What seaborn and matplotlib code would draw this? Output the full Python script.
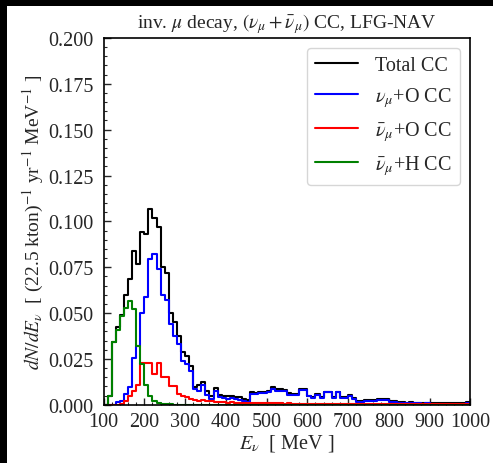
import numpy as np
import pandas as pd
import matplotlib
matplotlib.use("Agg")
import matplotlib.pyplot as plt
from matplotlib.patches import Rectangle
from matplotlib.lines import Line2D
from matplotlib.ticker import MultipleLocator, FormatStrFormatter
import seaborn as sns

# ---- data: 10 MeV bins from 100 to 1000 MeV ----
bin_edges = list(range(100, 1001, 10))

total_cc = [0, 0.005, 0.034, 0.0425, 0.049, 0.060, 0.0685, 0.084, 0.0767, 0.094,
            0.093, 0.1067, 0.102, 0.0967, 0.075, 0.072, 0.050, 0.045, 0.0376, 0.0285,
            0.0267, 0.021, 0.0098, 0.011, 0.0125, 0.0075, 0.005, 0.009, 0.0055, 0.005,
            0.0045, 0.005, 0.004, 0.004, 0.003, 0.0025, 0.0068, 0.0066, 0.0072, 0.0071,
            0.0075, 0.0097, 0.0085, 0.0084, 0.0083, 0.0062, 0.006, 0.006, 0.0085, 0.0085,
            0.005, 0.004, 0.006, 0.004, 0.0072, 0.0072, 0.004, 0.0072, 0.004, 0.004,
            0.0053, 0.0035, 0.0022, 0.0022, 0.0025, 0.0025, 0.0025, 0.003, 0.003, 0.003,
            0.002, 0.002, 0.0014, 0.0013, 0.0012, 0.0013, 0.0011, 0.0012, 0.001, 0.0011,
            0.001, 0.001, 0.0009, 0.001, 0.0009, 0.0008, 0.0009, 0.0008, 0.0008, 0.0015]

numu_O = [0, 0, 0, 0.0013, 0.002, 0.006, 0.0095, 0.0255, 0.032, 0.050,
          0.0585, 0.0795, 0.082, 0.074, 0.060, 0.057, 0.044, 0.0376, 0.033, 0.024,
          0.022, 0.0185, 0.0085, 0.0075, 0.0105, 0.0055, 0.003, 0.0075, 0.004, 0.0035,
          0.003, 0.0035, 0.003, 0.0027, 0.002, 0.0015, 0.0058, 0.0058, 0.0063, 0.0063,
          0.0067, 0.0085, 0.0077, 0.0077, 0.0077, 0.0055, 0.0055, 0.0055, 0.008, 0.008,
          0.0045, 0.0035, 0.0055, 0.0035, 0.0067, 0.0067, 0.0035, 0.0067, 0.0035, 0.0035,
          0.0048, 0.003, 0.0017, 0.0017, 0.002, 0.002, 0.002, 0.0025, 0.0025, 0.0025,
          0.0016, 0.0016, 0.001, 0.0009, 0.0008, 0.0009, 0.0007, 0.0008, 0.0006, 0.0007,
          0.0006, 0.0006, 0.0005, 0.0006, 0.0005, 0.0004, 0.0005, 0.0004, 0.0004, 0.0012]

numubar_O = [0, 0, 0, 0, 0.0005, 0.002, 0.005, 0.0075, 0.011, 0.0225,
             0.0225, 0.0225, 0.017, 0.0225, 0.015, 0.015, 0.0104, 0.0104, 0.006, 0.005,
             0.004, 0.003, 0.0025, 0.002, 0.0025, 0.002, 0.002, 0.0015, 0.0015, 0.0013,
             0.0012, 0.0015, 0.001, 0.0012, 0.001, 0.0009, 0.001, 0.0008, 0.0009, 0.0008,
             0.0007, 0.0012, 0.0008, 0.0007, 0.0006, 0.0007, 0.0005, 0.0005, 0.0005, 0.0006,
             0.0005, 0.0005, 0.0005, 0.0005, 0.0005, 0.0005, 0.0005, 0.0005, 0.0005, 0.0005,
             0.0005, 0.0005, 0.0005, 0.0005, 0.0005, 0.0005, 0.0005, 0.0005, 0.0005, 0.0004,
             0.0004, 0.0004, 0.0004, 0.0004, 0.0004, 0.0004, 0.0004, 0.0004, 0.0003, 0.0003,
             0.0003, 0.0003, 0.0003, 0.0003, 0.0003, 0.0003, 0.0003, 0.0003, 0.0003, 0.0003]

numubar_H = [0, 0.005, 0.034, 0.041, 0.0485, 0.053, 0.0565, 0.052, 0.032, 0.022,
             0.011, 0.005, 0.002, 0.0007, 0.0003, 0.0002, 0.0002] + [0] * 73

series_names = ["Total CC", r"$\nu_\mu$+O CC", r"$\bar{\nu}_\mu$+O CC", r"$\bar{\nu}_\mu$+H CC"]
series_values = [total_cc, numu_O, numubar_O, numubar_H]
series_colors = ["black", "#0000ff", "#ff0000", "#008000"]

centers = [(a + b) / 2 for a, b in zip(bin_edges[:-1], bin_edges[1:])]

# ---- style ----
sns.set_style("ticks")
plt.rcParams["font.family"] = ["Liberation Serif", "DejaVu Serif"]
plt.rcParams["mathtext.fontset"] = "stix"

fig = plt.figure(figsize=(4.93, 4.64), dpi=100)
fig.patch.set_facecolor("black")
fig.add_artist(Rectangle((7 / 493, 0), 1.1, (464 - 7) / 464, transform=fig.transFigure,
                         facecolor="white", edgecolor="none", zorder=-10))
ax = fig.add_axes([0.21, 0.1256, 0.744, 0.7904])

for name, vals, col in zip(series_names, series_values, series_colors):
    df = pd.DataFrame({"E": centers, "w": vals})
    sns.histplot(data=df, x="E", weights="w", bins=bin_edges, element="step",
                 fill=False, color=col, linewidth=1.5, ax=ax)

ax.set_xlim(100, 1000)
ax.set_ylim(0, 0.2)
ax.xaxis.set_major_locator(MultipleLocator(100))
ax.xaxis.set_minor_locator(MultipleLocator(20))
ax.yaxis.set_major_locator(MultipleLocator(0.025))
ax.yaxis.set_minor_locator(MultipleLocator(0.005))
ax.yaxis.set_major_formatter(FormatStrFormatter("%.3f"))
ax.tick_params(which="both", direction="in", labelsize=14.5, top=False, right=False)
ax.tick_params(axis="y", which="major", pad=7)
ax.tick_params(axis="x", which="major", pad=5)
ax.tick_params(which="major", length=5, width=1)
ax.tick_params(which="minor", length=2.5, width=0.8)
for s in ax.spines.values():
    s.set_linewidth(1.2)
    s.set_color("black")

ax.set_xlabel(r"$E_\nu$  [ MeV ]", fontsize=14.5, labelpad=1)
ax.set_ylabel(r"$dN/dE_\nu$  [ (22.5 kton)$^{-1}$ yr$^{-1}$ MeV$^{-1}$ ]", fontsize=14, labelpad=2)
ax.set_title(r"inv. $\mu$ decay, $(\nu_\mu+\bar{\nu}_\mu)$ CC, LFG-NAV", fontsize=14, pad=8)

handles = [Line2D([], [], color=c, lw=1.5) for c in series_colors]
ax.legend(handles, series_names, loc="upper right", fontsize=14.5, frameon=True,
          handlelength=2.15, handletextpad=0.85, borderpad=0.4, labelspacing=0.5,
          borderaxespad=0.5)

fig.savefig("out.png", dpi=100, facecolor=fig.get_facecolor())
